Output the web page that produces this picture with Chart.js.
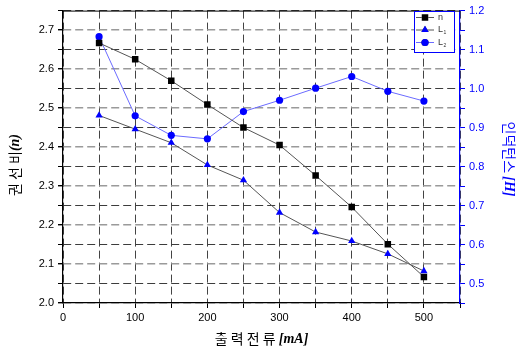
<!DOCTYPE html>
<html>
<head>
<meta charset="utf-8">
<script src="https://cdn.jsdelivr.net/npm/chart.js@4.4.1/dist/chart.umd.min.js"></script>
<style>
  html, body { margin: 0; padding: 0; background: #fff; }
  #wrap { width: 516px; height: 358px; position: relative; }
</style>
</head>
<body>
<div id="wrap"><canvas id="chart"></canvas></div>
<script>
// values
const currents = [50, 100, 150, 200, 250, 300, 350, 400, 450, 500]; // mA
const turnsRatio = [2.667, 2.625, 2.570, 2.509, 2.450, 2.405, 2.327, 2.246, 2.151, 2.067];
const inductanceL1 = [0.931, 0.896, 0.861, 0.804, 0.765, 0.682, 0.632, 0.609, 0.576, 0.532];
const inductanceL2 = [1.133, 0.930, 0.880, 0.871, 0.941, 0.970, 1.001, 1.031, 0.993, 0.968];

const BLUE = '#0000ff';
const tickFont = { family: 'Liberation Sans, Arial, sans-serif', size: 11 };

const toPoints = (ys) => currents.map((x, i) => ({ x, y: ys[i] }));
const isMajor = (v) => Math.round(v * 100) % 10 === 0;

// draws a row of text pieces with different fonts, centred on (x, y)
const drawRich = (ctx, parts, x, y, angle, color) => {
  ctx.save();
  ctx.translate(x, y);
  ctx.rotate(angle);
  ctx.fillStyle = color;
  ctx.textBaseline = 'middle';
  ctx.textAlign = 'left';
  let total = 0;
  parts.forEach(p => { ctx.font = p.font; total += ctx.measureText(p.text).width; });
  let cx = -total / 2;
  parts.forEach(p => {
    ctx.font = p.font;
    ctx.fillText(p.text, cx, 0);
    cx += ctx.measureText(p.text).width;
  });
  ctx.restore();
};

const KR = '14px "Noto Sans CJK KR", sans-serif';
const SERIF_BI = 'italic bold 14px "Liberation Serif", "Times New Roman", serif';

const titlesPlugin = {
  id: 'titles',
  afterDraw(chart) {
    const { ctx, chartArea: a } = chart;
    // top frame line
    ctx.save();
    ctx.strokeStyle = '#000';
    ctx.lineWidth = 1;
    ctx.beginPath();
    ctx.moveTo(a.left, a.top + 0.5);
    ctx.lineTo(a.right, a.top + 0.5);
    ctx.stroke();
    ctx.restore();

    drawRich(ctx, [
      { text: '출 력 전 류 ', font: KR },
      { text: '[mA]', font: SERIF_BI }
    ], (a.left + a.right) / 2, 339, 0, '#000');

    drawRich(ctx, [
      { text: '권 선 비', font: KR },
      { text: '(n)', font: SERIF_BI }
    ], 15, 165, -Math.PI / 2, '#000');

    drawRich(ctx, [
      { text: '인덕턴스 ', font: KR },
      { text: '[H]', font: SERIF_BI }
    ], 509, 159, Math.PI / 2, BLUE);
  }
};

const legendPlugin = {
  id: 'boxLegend',
  afterDraw(chart) {
    const { ctx } = chart;
    const x0 = 414, y0 = 11, w = 40, h = 41;
    ctx.save();
    ctx.fillStyle = '#fff';
    ctx.fillRect(x0, y0, w, h);
    ctx.strokeStyle = BLUE;
    ctx.lineWidth = 1;
    ctx.strokeRect(x0 + 0.5, y0 + 0.5, w, h);
    const labels = [['n', ''], ['L', '1'], ['L', '2']];
    chart.data.datasets.forEach((ds, i) => {
      const y = y0 + 6.5 + i * 12.5;
      ctx.strokeStyle = ds.borderColor;
      ctx.lineWidth = 1;
      ctx.beginPath();
      ctx.moveTo(x0 + 2, y);
      ctx.lineTo(x0 + 20, y);
      ctx.stroke();
      Chart.helpers.drawPoint(ctx, {
        pointStyle: ds.pointStyle,
        radius: ds.pointRadius,
        borderWidth: 0
      }, x0 + 11, y);
      ctx.fillStyle = ds.pointBackgroundColor;
      ctx.fill();
      ctx.fillStyle = '#333';
      ctx.textBaseline = 'middle';
      ctx.font = '9px "Liberation Sans", Arial, sans-serif';
      ctx.fillText(labels[i][0], x0 + 24, y);
      if (labels[i][1]) {
        const lw = ctx.measureText(labels[i][0]).width;
        ctx.font = '5px "Liberation Sans", Arial, sans-serif';
        ctx.fillText(labels[i][1], x0 + 24 + lw + 0.5, y + 3);
      }
    });
    ctx.restore();
  }
};

new Chart(document.getElementById('chart'), {
  type: 'line',
  data: {
    datasets: [
      {
        label: 'n',
        data: toPoints(turnsRatio),
        yAxisID: 'y',
        borderColor: '#555',
        borderWidth: 1,
        pointStyle: 'rect',
        pointRadius: 4.6,
        pointBackgroundColor: '#000',
        pointBorderWidth: 0
      },
      {
        label: 'L1',
        data: toPoints(inductanceL1),
        yAxisID: 'y1',
        borderColor: '#555',
        borderWidth: 1,
        pointStyle: 'triangle',
        pointRadius: 4.2,
        pointBackgroundColor: BLUE,
        pointBorderWidth: 0
      },
      {
        label: 'L2',
        data: toPoints(inductanceL2),
        yAxisID: 'y1',
        borderColor: '#6b6bff',
        borderWidth: 1,
        pointStyle: 'circle',
        pointRadius: 3.6,
        pointBackgroundColor: BLUE,
        pointBorderWidth: 0
      }
    ]
  },
  options: {
    responsive: true,
    maintainAspectRatio: false,
    animation: false,
    events: [],
    layout: { padding: { top: 9, left: 0, right: 0, bottom: 0 } },
    plugins: {
      legend: { display: false },
      tooltip: { enabled: false }
    },
    scales: {
      x: {
        type: 'linear',
        min: 0,
        max: 550,
        afterFit: (s) => { s.height = 55; },
        ticks: {
          stepSize: 50,
          font: tickFont,
          color: '#000',
          maxRotation: 0,
          padding: 3,
          callback: (v) => (v % 100 === 0 && v <= 500 ? String(v) : '')
        },
        grid: {
          color: '#444',
          lineWidth: 1,
          tickLength: 5,
          tickColor: '#000'
        },
        border: { color: '#000', width: 1.2, dash: [8, 4] }
      },
      y: {
        position: 'left',
        min: 2.0,
        max: 2.75,
        afterFit: (s) => { s.width = 63; },
        ticks: {
          stepSize: 0.05,
          font: tickFont,
          color: '#000',
          padding: 4,
          callback: (v) => (isMajor(v) ? v.toFixed(1) : '')
        },
        grid: {
          color: (c) => (c.tick && isMajor(c.tick.value) ? '#9a9a9a' : '#3c3c3c'),
          lineWidth: (c) => (c.tick && isMajor(c.tick.value) ? 1.4 : 1),
          tickLength: 5,
          tickColor: '#000'
        },
        border: { color: '#000', width: 1.2, dash: [8, 4] }
      },
      y1: {
        position: 'right',
        min: 0.45,
        max: 1.2,
        afterFit: (s) => { s.width = 56; },
        ticks: {
          stepSize: 0.05,
          font: tickFont,
          color: BLUE,
          padding: 4,
          callback: (v) => (isMajor(v) ? v.toFixed(1) : '')
        },
        grid: {
          drawOnChartArea: false,
          tickLength: 5,
          tickColor: BLUE
        },
        border: { color: BLUE, width: 1.2 }
      }
    }
  },
  plugins: [titlesPlugin, legendPlugin]
});
</script>
</body>
</html>
